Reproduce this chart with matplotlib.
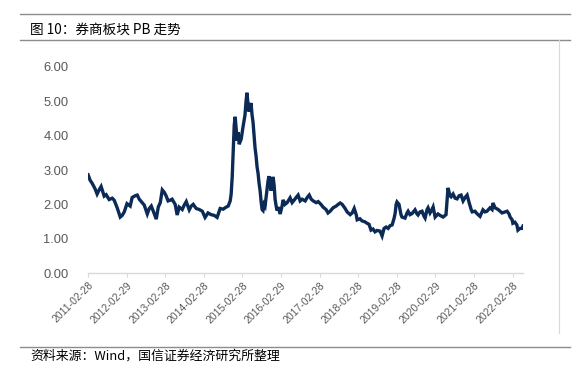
import matplotlib
matplotlib.use("Agg")
import matplotlib.pyplot as plt
import pandas as pd

# 券商板块 PB
dates = [
    "2011-02-28", "2011-03-19", "2011-04-06", "2011-05-05", "2011-05-24", "2011-06-12",
    "2011-07-01", "2011-07-30", "2011-08-18", "2011-09-15", "2011-10-14", "2011-11-02",
    "2011-11-30", "2011-12-29", "2012-01-17", "2012-02-05", "2012-03-02", "2012-04-01",
    "2012-04-20", "2012-05-18", "2012-06-07", "2012-06-26", "2012-07-15", "2012-08-12",
    "2012-09-10", "2012-09-29", "2012-10-18", "2012-11-06", "2012-12-04", "2012-12-23",
    "2013-01-11", "2013-01-30", "2013-02-18", "2013-03-07", "2013-03-26", "2013-04-14",
    "2013-05-03", "2013-06-01", "2013-06-20", "2013-07-09", "2013-08-07", "2013-08-26",
    "2013-09-14", "2013-10-12", "2013-10-31", "2013-11-19", "2013-12-17", "2014-01-15",
    "2014-02-13", "2014-03-11", "2014-04-08", "2014-05-07", "2014-06-05", "2014-07-03",
    "2014-08-01", "2014-08-29", "2014-09-27", "2014-10-16", "2014-11-04", "2014-11-13",
    "2014-11-23", "2014-12-02", "2014-12-12", "2014-12-21", "2014-12-31", "2015-01-09",
    "2015-01-19", "2015-01-28", "2015-02-16", "2015-03-05", "2015-03-24", "2015-04-03",
    "2015-04-12", "2015-04-22", "2015-05-01", "2015-05-11", "2015-05-20", "2015-05-30",
    "2015-06-08", "2015-06-18", "2015-06-27", "2015-07-07", "2015-07-16", "2015-07-26",
    "2015-08-04", "2015-08-14", "2015-08-23", "2015-09-02", "2015-09-11", "2015-09-21",
    "2015-09-30", "2015-10-10", "2015-10-19", "2015-10-29", "2015-11-07", "2015-11-17",
    "2015-11-26", "2015-12-06", "2015-12-15", "2015-12-25", "2016-01-03", "2016-01-13",
    "2016-01-22", "2016-02-01", "2016-02-20", "2016-03-09", "2016-03-19", "2016-04-06",
    "2016-04-26", "2016-05-24", "2016-06-12", "2016-07-01", "2016-07-20", "2016-08-08",
    "2016-08-27", "2016-09-15", "2016-10-14", "2016-11-02", "2016-11-21", "2016-12-10",
    "2016-12-29", "2017-01-26", "2017-02-14", "2017-03-12", "2017-04-01", "2017-04-29",
    "2017-05-18", "2017-06-07", "2017-07-05", "2017-08-03", "2017-08-22", "2017-09-10",
    "2017-09-29", "2017-10-27", "2017-11-15", "2017-12-14", "2018-01-02", "2018-01-21",
    "2018-02-09", "2018-02-18", "2018-03-16", "2018-04-04", "2018-05-03", "2018-05-22",
    "2018-06-10", "2018-06-29", "2018-07-18", "2018-08-06", "2018-08-25", "2018-09-23",
    "2018-10-12", "2018-10-31", "2018-11-19", "2018-12-08", "2018-12-27", "2019-01-15",
    "2019-02-03", "2019-02-13", "2019-02-22", "2019-03-02", "2019-03-21", "2019-04-09",
    "2019-04-18", "2019-05-17", "2019-06-05", "2019-06-15", "2019-07-03", "2019-07-22",
    "2019-08-10", "2019-08-20", "2019-09-08", "2019-09-17", "2019-10-06", "2019-10-25",
    "2019-11-13", "2019-11-23", "2019-12-12", "2019-12-21", "2020-01-09", "2020-01-28",
    "2020-02-07", "2020-02-26", "2020-03-24", "2020-04-12", "2020-05-11", "2020-06-08",
    "2020-06-18", "2020-06-27", "2020-07-16", "2020-07-26", "2020-08-14", "2020-09-02",
    "2020-09-21", "2020-10-10", "2020-10-29", "2020-11-17", "2020-12-06", "2020-12-25",
    "2021-01-13", "2021-02-01", "2021-02-11", "2021-03-09", "2021-03-28", "2021-04-26",
    "2021-05-24", "2021-06-12", "2021-07-01", "2021-07-30", "2021-08-18", "2021-08-27",
    "2021-09-15", "2021-10-14", "2021-11-02", "2021-11-21", "2021-12-19", "2022-01-07",
    "2022-01-26", "2022-02-05", "2022-02-24", "2022-03-03", "2022-03-22", "2022-04-10",
    "2022-04-20", "2022-05-09", "2022-05-28", "2022-06-07",
]
pb = [
    2.86, 2.70, 2.62, 2.45, 2.30, 2.42,
    2.52, 2.24, 2.28, 2.14, 2.18, 2.12,
    1.90, 1.63, 1.68, 1.78, 2.02, 1.95,
    2.20, 2.25, 2.27, 2.15, 2.08, 1.98,
    1.72, 1.88, 1.95, 1.80, 1.57, 1.92,
    2.05, 2.42, 2.35, 2.25, 2.10, 2.12,
    2.15, 2.00, 1.69, 1.92, 1.85, 1.98,
    2.08, 1.84, 1.95, 2.00, 1.88, 1.85,
    1.80, 1.62, 1.75, 1.70, 1.68, 1.62,
    1.88, 1.86, 1.92, 1.95, 2.10, 2.30,
    2.80, 3.50, 4.30, 4.55, 4.20, 3.85,
    4.10, 3.75, 3.90, 4.25, 4.60, 5.00,
    5.25, 4.90, 4.70, 4.85, 4.95, 4.60,
    4.40, 4.00, 3.65, 3.40, 3.10, 2.90,
    2.62, 2.40, 2.10, 1.85, 1.82, 2.00,
    1.95, 2.20, 2.40, 2.70, 2.82, 2.55,
    2.40, 2.65, 2.80, 2.55, 2.15, 1.95,
    1.82, 1.92, 1.72, 1.95, 2.13, 2.00,
    2.05, 2.19, 2.05, 2.12, 2.20, 2.27,
    2.10, 2.15, 2.10, 2.20, 2.27, 2.15,
    2.10, 2.05, 2.08, 2.00, 1.92, 1.85,
    1.75, 1.80, 1.90, 1.95, 2.00, 2.04,
    2.00, 1.88, 1.78, 1.70, 1.75, 1.88,
    1.70, 1.55, 1.58, 1.52, 1.49, 1.45,
    1.42, 1.25, 1.28, 1.20, 1.24, 1.22,
    1.08, 1.30, 1.34, 1.30, 1.38, 1.40,
    1.60, 1.75, 2.00, 2.07, 2.00, 1.70,
    1.63, 1.60, 1.75, 1.80, 1.70, 1.73,
    1.80, 1.84, 1.72, 1.69, 1.78, 1.80,
    1.65, 1.60, 1.85, 1.90, 1.75, 1.85,
    1.92, 1.63, 1.72, 1.68, 1.63, 1.70,
    2.10, 2.48, 2.25, 2.22, 2.30, 2.18,
    2.16, 2.25, 2.27, 2.10, 2.20, 2.27,
    2.05, 1.85, 1.78, 1.80, 1.73, 1.65,
    1.84, 1.78, 1.80, 1.90, 1.85, 2.04,
    1.90, 1.85, 1.80, 1.75, 1.78, 1.80,
    1.72, 1.63, 1.55, 1.45, 1.48, 1.40,
    1.25, 1.30, 1.30, 1.37,
]
tick_labels = ["2011-02-28", "2012-02-29", "2013-02-28", "2014-02-28", "2015-02-28",
               "2016-02-29", "2017-02-28", "2018-02-28", "2019-02-28", "2020-02-29",
               "2021-02-28", "2022-02-28"]
y_ticks = [0, 1, 2, 3, 4, 5, 6]

title = "图 10：券商板块 PB 走势"
source = "资料来源：Wind，国信证券经济研究所整理"

cjk = ["Noto Sans CJK SC", "DejaVu Sans"]

x = pd.to_datetime(dates)
ticks = pd.to_datetime(tick_labels)

fig = plt.figure(figsize=(5.76, 3.72), dpi=100)
ax = fig.add_axes([0.153, 0.266, 0.755, 0.554])
ax.plot(x, pb, color="#0b2a56", linewidth=2.4, solid_joinstyle="miter")

ax.set_xlim(x[0], x[-1])
ax.set_ylim(0, 6)
ax.set_yticks(y_ticks)
ax.set_yticklabels([f"{v:.2f}" for v in y_ticks], fontsize=9.3, color="#595959",
                   family="Liberation Sans")
ax.set_xticks(ticks)
ax.set_xticklabels(tick_labels, rotation=45, ha="right", rotation_mode="anchor",
                   fontsize=7.5, color="#595959", family="Liberation Sans")
ax.tick_params(axis="y", length=0, pad=14)
ax.tick_params(axis="x", length=3, color="#d9d9d9", pad=2)
for s in ["top", "right", "left"]:
    ax.spines[s].set_visible(False)
ax.spines["bottom"].set_color("#d9d9d9")
ax.spines["bottom"].set_linewidth(1.0)

# 标题、来源与框线
fig.text(30 / 576, 1 - 30 / 372, title, fontsize=9.8, family=cjk, va="center", ha="left")
fig.text(30 / 576, 1 - 356 / 372, source, fontsize=9.3, family=cjk, va="center", ha="left")
line_kw = dict(color="#8c8c8c", linewidth=1.0, transform=fig.transFigure)
fig.lines.append(plt.Line2D([20 / 576, 570 / 576], [1 - 14 / 372] * 2, **line_kw))
fig.lines.append(plt.Line2D([20 / 576, 570 / 576], [1 - 40 / 372] * 2, **line_kw))
fig.lines.append(plt.Line2D([20 / 576, 570 / 576], [1 - 347 / 372] * 2, **line_kw))
fig.lines.append(plt.Line2D([559 / 576] * 2, [1 - 40 / 372, 1 - 333 / 372],
                            color="#d9d9d9", linewidth=0.8, transform=fig.transFigure))

fig.savefig("out.png", dpi=100)
